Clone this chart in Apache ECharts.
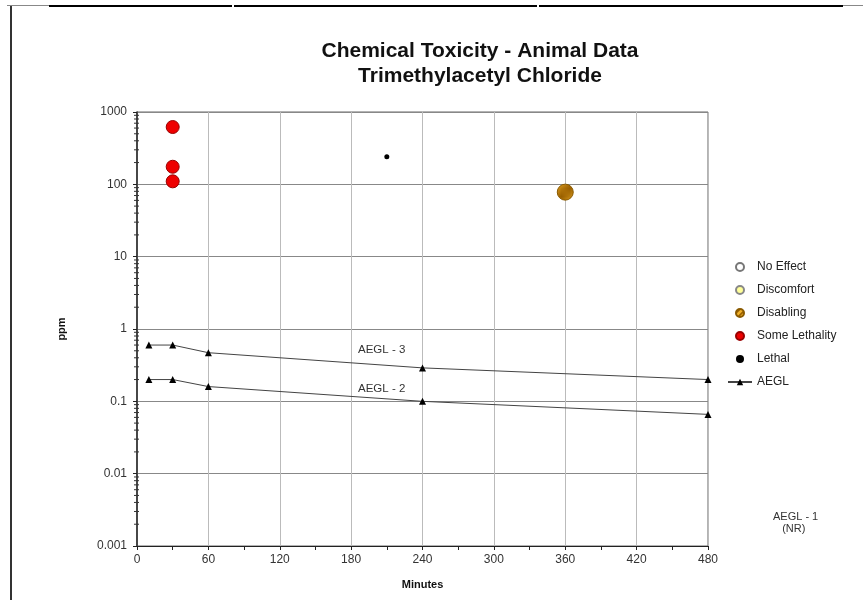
<!DOCTYPE html>
<html>
<head>
<meta charset="utf-8">
<script src="https://cdn.jsdelivr.net/npm/echarts@6/dist/echarts.min.js"></script>
<style>
  html, body { margin: 0; padding: 0; background: #fff; }
  #main { width: 863px; height: 600px; }
</style>
</head>
<body>
<div id="main"></div>
<script>
// data
var minuteTicks = [0, 60, 120, 180, 240, 300, 360, 420, 480];
var noEffect = [];
var discomfort = [];
var disabling = [[360, 78]];
var someLethality = [[30, 620], [30, 175], [30, 110]];
var lethal = [[210, 240]];
var aegl3 = [[10, 0.6], [30, 0.6], [60, 0.47], [240, 0.29], [480, 0.2]];
var aegl2 = [[10, 0.2], [30, 0.2], [60, 0.16], [240, 0.1], [480, 0.066]];

// log minor tick values 2..9 x 10^k
var minorVals = [];
for (var k = -3; k < 3; k++) {
  for (var m = 2; m <= 9; m++) minorVals.push([0, m * Math.pow(10, k)]);
}

// striped fill for the disabling marker
var stripe = document.createElement("canvas");
stripe.width = 6;
stripe.height = 6;
var sc = stripe.getContext("2d");
sc.fillStyle = "#f2b22a";
sc.fillRect(0, 0, 6, 6);
sc.strokeStyle = "#9a6000";
sc.lineWidth = 1.6;
sc.beginPath();
sc.moveTo(-1, 7); sc.lineTo(7, -1);
sc.moveTo(-4, 4); sc.lineTo(4, -4);
sc.moveTo(2, 10); sc.lineTo(10, 2);
sc.stroke();

var font = "Liberation Sans, Arial, sans-serif";
var chart = echarts.init(document.getElementById("main"));

chart.setOption({
  animation: false,
  backgroundColor: "#fff",
  title: {
    text: "Chemical Toxicity - Animal Data\nTrimethylacetyl Chloride",
    left: 475,
    top: 34,
    textAlign: "center",
    textStyle: { fontFamily: font, fontSize: 21, fontWeight: "bold", color: "#111", lineHeight: 25 }
  },
  legend: {
    orient: "vertical",
    left: 722,
    top: 255,
    itemWidth: 24,
    itemHeight: 8,
    itemGap: 9,
    textStyle: { fontFamily: font, fontSize: 12, color: "#222", lineHeight: 14 },
    data: ["No Effect", "Discomfort", "Disabling", "Some Lethality", "Lethal", "AEGL"]
  },
  grid: {
    left: 137,
    right: 155,
    top: 112,
    bottom: 54,
    show: true,
    borderColor: "#666",
    borderWidth: 1
  },
  xAxis: {
    type: "value",
    min: 0,
    max: 480,
    interval: 60,
    name: "Minutes",
    nameLocation: "middle",
    nameGap: 33,
    nameTextStyle: { fontFamily: font, fontSize: 11, fontWeight: "bold", color: "#111" },
    axisLine: { lineStyle: { color: "#222", width: 1 } },
    axisTick: { length: 4, lineStyle: { color: "#222" } },
    minorTick: { show: true, splitNumber: 2, length: 4, lineStyle: { color: "#222" } },
    axisLabel: { fontFamily: font, fontSize: 12, color: "#333", margin: 8 },
    splitLine: { show: true, lineStyle: { color: "#bbb", width: 1 } }
  },
  yAxis: {
    type: "log",
    logBase: 10,
    min: 0.001,
    max: 1000,
    name: "ppm",
    nameLocation: "middle",
    nameGap: 70,
    nameTextStyle: { fontFamily: font, fontSize: 11, fontWeight: "bold", color: "#111" },
    axisLine: { show: true, lineStyle: { color: "#222", width: 1.5 } },
    axisTick: { show: true, length: 4, lineStyle: { color: "#222" } },
    axisLabel: {
      fontFamily: font, fontSize: 12, color: "#333", margin: 10,
      formatter: function (v) { return String(+v.toPrecision(6)); }
    },
    splitLine: { show: true, lineStyle: { color: "#888", width: 1 } }
  },
  series: [
    {
      name: "No Effect", type: "scatter", data: noEffect, symbolSize: 8,
      itemStyle: { color: "#fff", borderColor: "#777", borderWidth: 1, opacity: 1 }
    },
    {
      name: "Discomfort", type: "scatter", data: discomfort, symbolSize: 8,
      itemStyle: { color: "#ffff99", borderColor: "#888", borderWidth: 1, opacity: 1 }
    },
    {
      name: "Disabling", type: "scatter", data: disabling, symbolSize: 16,
      itemStyle: { color: { image: stripe, repeat: "repeat" }, borderColor: "#8a5a00", borderWidth: 1, opacity: 1 }
    },
    {
      name: "Some Lethality", type: "scatter", data: someLethality, symbolSize: 13,
      itemStyle: { color: "#ee0000", borderColor: "#990000", borderWidth: 1, opacity: 1 }
    },
    {
      name: "Lethal", type: "scatter", data: lethal, symbolSize: 5,
      itemStyle: { color: "#000", opacity: 1 }
    },
    {
      name: "AEGL", type: "line", data: aegl3, symbol: "triangle", symbolSize: 7,
      lineStyle: { color: "#444", width: 1 }, itemStyle: { color: "#000" }
    },
    {
      name: "AEGL", type: "line", data: aegl2, symbol: "triangle", symbolSize: 7,
      lineStyle: { color: "#444", width: 1 }, itemStyle: { color: "#000" }
    },
    {
      // log minor ticks on the y axis
      type: "custom", silent: true, data: minorVals, z: 5,
      renderItem: function (params, api) {
        var p = api.coord([0, api.value(1)]);
        return {
          type: "line",
          shape: { x1: p[0] - 3, y1: p[1], x2: p[0] + 2, y2: p[1] },
          style: { stroke: "#333", lineWidth: 1 }
        };
      }
    }
  ],
  graphic: [
    { type: "line", shape: { x1: 7, y1: 5.5, x2: 49, y2: 5.5 }, style: { stroke: "#888", lineWidth: 1 } },
    { type: "line", shape: { x1: 49, y1: 6, x2: 232, y2: 6 }, style: { stroke: "#000", lineWidth: 2 } },
    { type: "line", shape: { x1: 234, y1: 6, x2: 537, y2: 6 }, style: { stroke: "#000", lineWidth: 2 } },
    { type: "line", shape: { x1: 539, y1: 6, x2: 843, y2: 6 }, style: { stroke: "#000", lineWidth: 2 } },
    { type: "line", shape: { x1: 843, y1: 5.5, x2: 863, y2: 5.5 }, style: { stroke: "#888", lineWidth: 1 } },
    { type: "line", shape: { x1: 11, y1: 6, x2: 11, y2: 600 }, style: { stroke: "#333", lineWidth: 2 } },
    { type: "text", left: 358, top: 344, style: { text: "AEGL - 3", font: "11.5px " + font, fill: "#333" } },
    { type: "text", left: 358, top: 383, style: { text: "AEGL - 2", font: "11.5px " + font, fill: "#333" } },
    { type: "text", left: 773, top: 511, style: { text: "AEGL - 1\n   (NR)", font: "11px " + font, fill: "#333", lineHeight: 12 } }
  ]
});
</script>
</body>
</html>
